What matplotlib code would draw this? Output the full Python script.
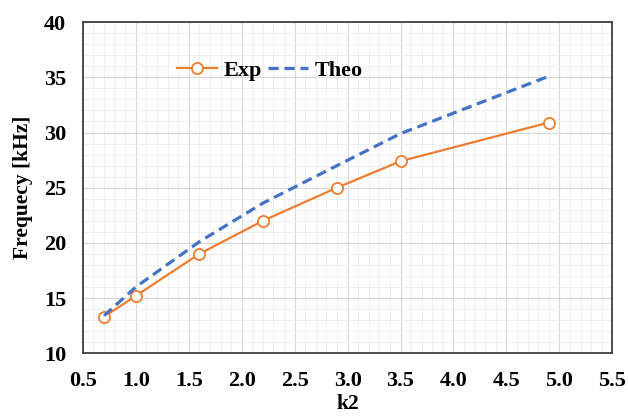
import matplotlib.pyplot as plt
from matplotlib.ticker import MultipleLocator

# data
k2 = [0.7, 1.0, 1.6, 2.2, 2.9, 3.5, 4.9]
exp_freq = [13.3, 15.2, 19.0, 22.0, 25.0, 27.4, 30.9]
theo_freq = [13.4, 16.0, 20.1, 23.6, 27.0, 29.9, 35.1]

plt.rcParams['font.family'] = ['Liberation Serif', 'DejaVu Serif']
plt.rcParams['font.weight'] = 'bold'

fig = plt.figure(figsize=(6.28, 4.18), dpi=100)
ax = fig.add_axes([0.132, 0.155, 0.843, 0.792])

ax.plot(k2, exp_freq, color='#ED7D31', lw=1.6, marker='o', ms=8,
        mfc='white', mec='#ED7D31', mew=1.3, label='Exp', zorder=3)
ax.plot(k2, theo_freq, color='#4472C4', lw=2.3, ls=(0, (3.2, 1.8)),
        label='Theo', zorder=3)

ax.set_xlim(0.5, 5.5)
ax.set_ylim(10, 40)
ax.xaxis.set_major_locator(MultipleLocator(0.5))
ax.xaxis.set_minor_locator(MultipleLocator(0.1))
ax.yaxis.set_major_locator(MultipleLocator(5))
ax.yaxis.set_minor_locator(MultipleLocator(1))
ax.xaxis.set_major_formatter(plt.FormatStrFormatter('%.1f'))
ax.grid(which='major', color='#d9d9d9', lw=0.9)
ax.grid(which='minor', color='#ececec', lw=0.6)
ax.set_axisbelow(True)
ax.tick_params(which='both', length=0)
ax.tick_params(axis='x', labelsize=16, pad=13)
ax.tick_params(axis='y', labelsize=16, pad=12)

for s in ax.spines.values():
    s.set_color('#404040')
    s.set_linewidth(1.3)

ax.set_xlabel('k2', fontsize=15.5, fontweight='bold', labelpad=2)
ax.set_ylabel('Frequecy [kHz]', fontsize=15.5, fontweight='bold', labelpad=8)

ax.legend(loc='upper left', bbox_to_anchor=(0.14, 0.945), ncol=2, frameon=False,
          fontsize=16, handlelength=1.8, columnspacing=0.25, handletextpad=0.3)

fig.savefig('out.png', dpi=100)
